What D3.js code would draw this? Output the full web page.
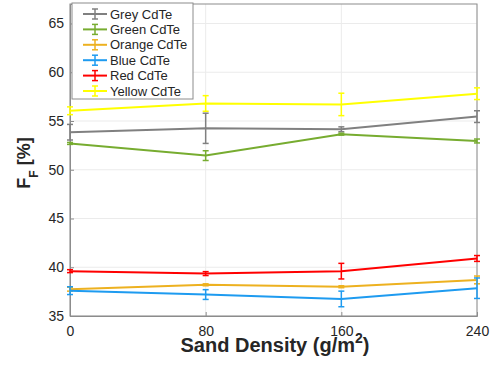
<!DOCTYPE html>
<html><head><meta charset="utf-8">
<script src="https://cdn.jsdelivr.net/npm/d3@7"></script>
<style>body{margin:0;background:#fff;} text{font-family:Arial, "Liberation Sans", sans-serif;}</style>
</head><body>
<svg id="c" width="493" height="366"></svg>
<script>
const densities = [0, 80, 160, 240];
const xTicks = [0, 80, 160, 240];
const yTicks = [35, 40, 45, 50, 55, 60, 65];
const seriesNames = ["Grey CdTe", "Green CdTe", "Orange CdTe", "Blue CdTe", "Red CdTe", "Yellow CdTe"];
const seriesColors = ["#808080", "#77AC30", "#EDB120", "#1E9BF0", "#FF0000", "#FFFF00"];
const greyVals = [53.85, 54.25, 54.15, 55.45];
const greyErr = [0.8, 1.55, 0.25, 0.6];
const greenVals = [52.7, 51.45, 53.65, 52.95];
const greenErr = [0.1, 0.5, 0.1, 0.2];
const orangeVals = [37.75, 38.2, 38.0, 38.7];
const orangeErr = [0.2, 0.1, 0.1, 0.4];
const blueVals = [37.6, 37.2, 36.75, 37.85];
const blueErr = [0.4, 0.5, 0.8, 1.05];
const redVals = [39.6, 39.35, 39.6, 40.9];
const redErr = [0.15, 0.2, 0.8, 0.3];
const yellowVals = [56.05, 56.8, 56.7, 57.8];
const yellowErr = [0.4, 0.8, 1.15, 0.6];

const allVals = [greyVals, greenVals, orangeVals, blueVals, redVals, yellowVals];
const allErr = [greyErr, greenErr, orangeErr, blueErr, redErr, yellowErr];

const svg = d3.select("#c");
const L = 70, R = 477, T = 4, B = 316;
const x = d3.scaleLinear().domain([0, 240]).range([L, R]);
const y = d3.scaleLinear().domain([35, 67]).range([B, T]);

// grid
const g = svg.append("g");
g.selectAll(".gx").data(xTicks).join("line")
  .attr("x1", d => x(d)).attr("x2", d => x(d)).attr("y1", T).attr("y2", B)
  .attr("stroke", "#ebebeb").attr("stroke-width", 1);
g.selectAll(".gy").data(yTicks).join("line")
  .attr("x1", L).attr("x2", R).attr("y1", d => y(d)).attr("y2", d => y(d))
  .attr("stroke", "#ebebeb").attr("stroke-width", 1);

// box
svg.append("rect").attr("x", L).attr("y", T).attr("width", R - L).attr("height", B - T)
  .attr("fill", "none").attr("stroke", "#8c8c8c").attr("stroke-width", 1);

// axes
const xAxis = svg.append("g").attr("transform", `translate(0,${B})`)
  .call(d3.axisBottom(x).tickValues(xTicks).tickSize(-4).tickPadding(10));
const yAxis = svg.append("g").attr("transform", `translate(${L},0)`)
  .call(d3.axisLeft(y).tickValues(yTicks).tickSize(-4).tickPadding(6));
[xAxis, yAxis].forEach(a => {
  a.select(".domain").attr("stroke", "#8c8c8c");
  a.selectAll(".tick line").attr("stroke", "#8c8c8c");
  a.selectAll(".tick text").attr("fill", "#262626").attr("font-size", 14)
    .attr("font-family", "Arial, 'Liberation Sans', sans-serif");
});

// series
const line = d3.line().x((d, i) => x(densities[i])).y(d => y(d));
allVals.forEach((vals, si) => {
  const col = seriesColors[si];
  const errs = allErr[si];
  const sg = svg.append("g");
  sg.append("path").datum(vals).attr("d", line).attr("fill", "none")
    .attr("stroke", col).attr("stroke-width", 2);
  vals.forEach((v, i) => {
    const cx = x(densities[i]);
    const y1 = y(v - errs[i]), y2 = y(v + errs[i]);
    sg.append("line").attr("x1", cx).attr("x2", cx).attr("y1", y1).attr("y2", y2)
      .attr("stroke", col).attr("stroke-width", 1.5);
    [y1, y2].forEach(yy => sg.append("line").attr("x1", cx - 3).attr("x2", cx + 3)
      .attr("y1", yy).attr("y2", yy).attr("stroke", col).attr("stroke-width", 1.5));
  });
});

// legend
const lg = svg.append("g");
lg.append("rect").attr("x", 72).attr("y", 3).attr("width", 121).attr("height", 96)
  .attr("fill", "#fff").attr("stroke", "#8c8c8c").attr("stroke-width", 1);
seriesNames.forEach((n, i) => {
  const yy = 14 + i * 15.4;
  const col = seriesColors[i];
  lg.append("line").attr("x1", 83).attr("x2", 107).attr("y1", yy).attr("y2", yy)
    .attr("stroke", col).attr("stroke-width", 2);
  lg.append("line").attr("x1", 95).attr("x2", 95).attr("y1", yy - 5).attr("y2", yy + 5)
    .attr("stroke", col).attr("stroke-width", 1.5);
  [yy - 5, yy + 5].forEach(t => lg.append("line").attr("x1", 92).attr("x2", 98)
    .attr("y1", t).attr("y2", t).attr("stroke", col).attr("stroke-width", 1.5));
  lg.append("text").attr("x", 110).attr("y", yy + 4.5).attr("font-size", 13)
    .attr("fill", "#262626").text(n);
});

// axis labels
const xl = svg.append("text").attr("x", 275).attr("y", 352).attr("text-anchor", "middle")
  .attr("font-size", 20).attr("font-weight", "bold").attr("fill", "#262626");
xl.append("tspan").text("Sand Density (g/m");
xl.append("tspan").attr("font-size", 14).attr("dy", -9).text("2");
xl.append("tspan").attr("dy", 9).text(")");

const yl = svg.append("text").attr("transform", "translate(30,163) rotate(-90)")
  .attr("text-anchor", "middle").attr("font-size", 18).attr("font-weight", "bold").attr("fill", "#262626");
yl.append("tspan").text("F");
yl.append("tspan").attr("font-size", 12).attr("dy", 8).text("F");
yl.append("tspan").attr("dy", -8).text(" [%]");
</script>
</body></html>
